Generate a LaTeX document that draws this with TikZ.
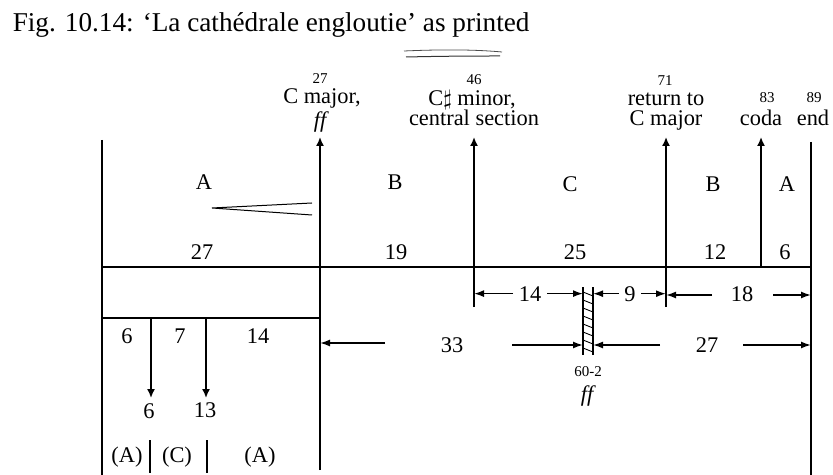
\documentclass[tikz,border=0pt]{standalone}
\usepackage{fontspec}
\setmainfont{Liberation Serif}
\usetikzlibrary{positioning,arrows.meta}

\begin{document}
\begin{tikzpicture}[x=0.5pt,y=-0.5pt,line width=0.8pt,
  >={Latex[length=4.5pt,width=4pt]},
  every node/.style={font=\fontsize{11.2}{13}\selectfont,inner sep=0pt,anchor=base},
  bar/.style={font=\fontsize{7.5}{9}\selectfont},
  dim/.style={inner sep=2.5pt},
  dimarr/.style={->,>={Latex[length=5pt,width=3.5pt]}}]
\useasboundingbox (0,0) rectangle (833,475);
% title
\node[anchor=base west,font=\fontsize{13.6}{16}\selectfont] (title) at (12,32)
  {Fig. 10.14: ‘La cathédrale engloutie’ as printed};
\draw[line width=0.4pt,black!70] (404,51) .. controls (450,49) and (480,50) .. (502,52);
\draw[line width=0.5pt,black!80] (406,57) .. controls (450,56) and (480,56) .. (500,56);
% labels above the arrows
\node[bar] (b27) at (320,84) {27};
\node (cmaj) at (322,104) {C major,};
\node (ffa) at (320,128) {\itshape ff};
\node[bar] (b46) at (474,85) {46};
\node (csm) at (472,106) {C$\sharp$ minor,};
\node (cen) at (474,126) {central section};
\node[bar] (b71) at (665,86) {71};
\node (ret) at (666,106) {return to};
\node (cmb) at (666,126) {C major};
\node[bar] (b83) at (767,103) {83};
\node[bar] (b89) at (814,103) {89};
\node (coda) at (761,126) {coda};
\node (fin) at (813,126) {end};
% sections and their lengths
\node (sA) at (204,190) {A};
\node (sB) at (395,190) {B};
\node (sC) at (570,192) {C};
\node (sB2) at (713,192) {B};
\node (sA2) at (787,192) {A};
\node (l27) at (202,260) {27};
\node (l19) at (396,260) {19};
\node (l25) at (575,260) {25};
\node (l12) at (715,260) {12};
\node (l6) at (785,260) {6};
% frame
\coordinate (lt) at (102,140);
\coordinate (lb) at (102,475);
\coordinate (rt) at (811,142);
\coordinate (rb) at (811,475);
\coordinate (h0) at (102,267);
\coordinate (h5) at (811,267);
\draw (lt) -- (lb);
\draw (rt) -- (rb);
\draw (h0) -- (h5);
\coordinate (u1) at (320,137);
\coordinate (d1) at (320,470);
\coordinate (u2) at (474,137);
\coordinate (d2) at (474,307);
\coordinate (u3) at (666,137);
\coordinate (d3) at (666,307);
\coordinate (u4) at (761,137);
\coordinate (d4) at (761,267);
\draw[->] (d1) -- (u1);
\draw[->] (d2) -- (u2);
\draw[->] (d3) -- (u3);
\draw[->] (d4) -- (u4);
% hairpin
\draw[line width=0.5pt] (312,203) -- (212,208) -- (312,215);
% opening as heard
\coordinate (k0) at (102,318);
\coordinate (k1) at (320,318);
\draw (k0) -- (k1);
\coordinate (s1) at (151,318);
\coordinate (s2) at (206,318);
\coordinate (e1) at (151,398);
\coordinate (e2) at (206,398);
\draw[->] (s1) -- (e1);
\draw[->] (s2) -- (e2);
\node (o6) at (127,343) {6};
\node (o7) at (180,343) {7};
\node (o14) at (258,343) {14};
\node (x6) at (149,418) {6};
\node (x13) at (205,417) {13};
\node (pA) at (127,462) {(A)};
\node (pC) at (177,462) {(C)};
\node (pA2) at (260,462) {(A)};
\coordinate (v1) at (150,440);
\coordinate (w1) at (150,473);
\coordinate (v2) at (207,440);
\coordinate (w2) at (207,473);
\draw (v1) -- (w1);
\draw (v2) -- (w2);
% climax bars
\coordinate (ct) at (583,287);
\coordinate (cb) at (583,355);
\coordinate (ct2) at (593,287);
\coordinate (cb2) at (593,355);
\draw (ct) -- (cb);
\draw (ct2) -- (cb2);
\foreach \y in {292,300,...,348}
  \draw[line width=0.45pt] (583,\y) -- (593,\y+4);
\node[bar] (cl) at (588,376) {60-2};
\node (ffb) at (587,401) {\itshape ff};
% distances
\node[dim] (m14) at (530,301) {14};
\draw[dimarr] (m14.west) -- (d2 |- m14.west);
\draw[dimarr] (m14.east) -- (ct |- m14.east);
\node[dim] (m9) at (630,301) {9};
\draw[dimarr] (m9.west) -- (ct2 |- m9.west);
\draw[dimarr] (m9.east) -- (d3 |- m9.east);
\node (m18) at (742,301) {18};
\coordinate (q1) at (712,295);
\coordinate (q2) at (773,295);
\draw[dimarr] (q1) -- (d3 |- q1);
\draw[dimarr] (q2) -- (rb |- q2);
\node (m33) at (452,352) {33};
\coordinate (r0) at (385,343);
\coordinate (r1) at (512,345);
\draw[dimarr] (r0) -- (d1 |- r0);
\draw[dimarr] (r1) -- (ct |- r1);
\node (m27) at (707,352) {27};
\coordinate (r2) at (660,345);
\coordinate (r3) at (743,345);
\draw[dimarr] (r2) -- (ct2 |- r2);
\draw[dimarr] (r3) -- (rb |- r3);
\end{tikzpicture}
\end{document}
